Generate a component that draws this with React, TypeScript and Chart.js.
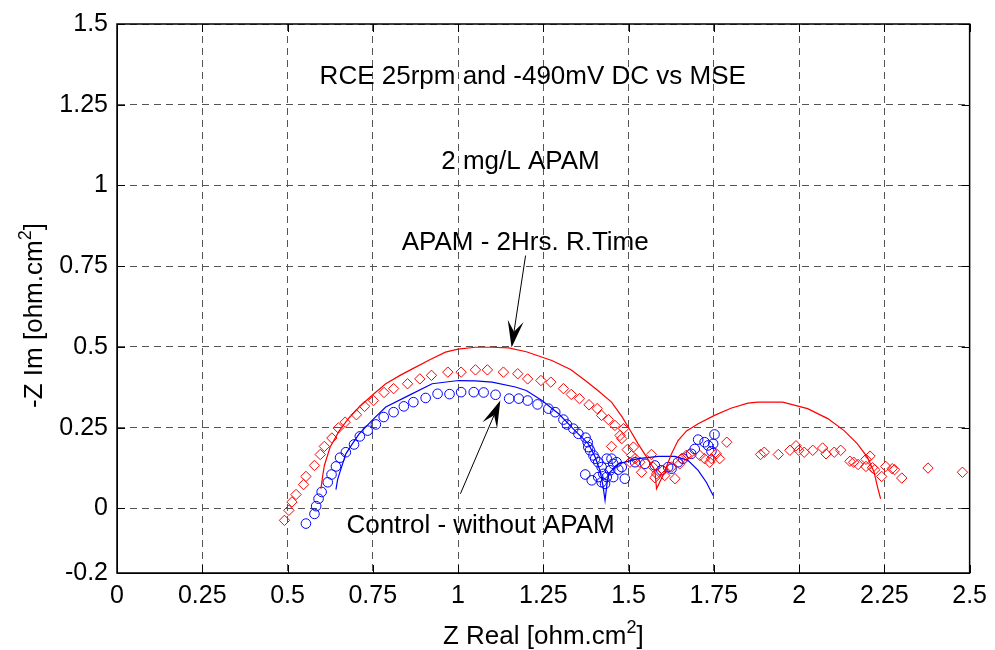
import React, { useEffect, useRef } from "react";
import { Chart, registerables } from "chart.js";

Chart.register(...registerables);

// ---------- axes ----------
const xTicks = [0, 0.25, 0.5, 0.75, 1, 1.25, 1.5, 1.75, 2, 2.25, 2.5];
const xTickLabels = ["0", "0.25", "0.5", "0.75", "1", "1.25", "1.5", "1.75", "2", "2.25", "2.5"];
const yTicks = [-0.2, 0, 0.25, 0.5, 0.75, 1, 1.25, 1.5];
const yTickLabels = ["-0.2", "0", "0.25", "0.5", "0.75", "1", "1.25", "1.5"];
const xTitle = "Z Real [ohm.cm";
const yTitle = "-Z Im [ohm.cm";
const titleSup = "2";

// ---------- APAM - 2Hrs (red) fitted line ----------
const apamFitX = [0.598, 0.603, 0.608, 0.625, 0.652, 0.68, 0.71, 0.75, 0.788, 0.83, 0.866, 0.92, 0.963, 1.0, 1.051, 1.1, 1.148, 1.2, 1.275, 1.33, 1.373, 1.41, 1.45, 1.48, 1.499, 1.528, 1.553, 1.577, 1.582, 1.6, 1.615, 1.626, 1.645, 1.67, 1.704, 1.752, 1.8, 1.85, 1.879, 1.952, 2.025, 2.084, 2.132, 2.171, 2.2, 2.22, 2.23, 2.239];
const apamFitY = [0.061, 0.1, 0.133, 0.19, 0.241, 0.28, 0.314, 0.352, 0.386, 0.412, 0.432, 0.462, 0.484, 0.493, 0.499, 0.499, 0.497, 0.485, 0.458, 0.43, 0.396, 0.365, 0.329, 0.285, 0.252, 0.2, 0.159, 0.118, 0.061, 0.1, 0.14, 0.169, 0.21, 0.24, 0.262, 0.288, 0.31, 0.326, 0.329, 0.329, 0.309, 0.278, 0.241, 0.2, 0.159, 0.112, 0.066, 0.03];

// ---------- APAM - 2Hrs (red) measured diamonds ----------
const apamX = [0.491, 0.504, 0.513, 0.525, 0.547, 0.554, 0.579, 0.596, 0.608, 0.63, 0.649, 0.669, 0.702, 0.726, 0.752, 0.783, 0.811, 0.852, 0.888, 0.922, 0.97, 1.009, 1.051, 1.086, 1.133, 1.175, 1.204, 1.243, 1.272, 1.309, 1.332, 1.356, 1.384, 1.408, 1.421, 1.441, 1.46, 1.485, 1.475, 1.48, 1.45, 1.496, 1.514, 1.509, 1.519, 1.504, 1.533, 1.567, 1.538, 1.572, 1.582, 1.577, 1.601, 1.606, 1.626, 1.636, 1.65, 1.655, 1.669, 1.679, 1.709, 1.723, 1.738, 1.743, 1.757, 1.767, 1.788, 1.887, 1.898, 1.939, 1.973, 1.991, 1.999, 2.015, 2.04, 2.069, 2.079, 2.103, 2.122, 2.149, 2.16, 2.173, 2.196, 2.208, 2.196, 2.215, 2.222, 2.242, 2.254, 2.273, 2.28, 2.301, 2.378, 2.479];
const apamY = [-0.037, -0.006, 0.02, 0.043, 0.074, 0.099, 0.133, 0.167, 0.192, 0.218, 0.249, 0.267, 0.29, 0.316, 0.334, 0.359, 0.371, 0.386, 0.401, 0.412, 0.422, 0.422, 0.429, 0.429, 0.422, 0.417, 0.401, 0.396, 0.391, 0.371, 0.353, 0.34, 0.321, 0.309, 0.288, 0.275, 0.257, 0.247, 0.226, 0.216, 0.192, 0.182, 0.19, 0.164, 0.154, 0.143, 0.143, 0.167, 0.112, 0.128, 0.107, 0.095, 0.118, 0.102, 0.128, 0.092, 0.138, 0.154, 0.164, 0.169, 0.164, 0.154, 0.143, 0.154, 0.169, 0.154, 0.205, 0.167, 0.174, 0.167, 0.18, 0.194, 0.18, 0.174, 0.18, 0.187, 0.169, 0.174, 0.18, 0.146, 0.143, 0.136, 0.152, 0.162, 0.13, 0.126, 0.12, 0.099, 0.13, 0.123, 0.12, 0.094, 0.125, 0.112];

// ---------- Control (blue) fitted line ----------
const ctrlFitX = [0.642, 0.647, 0.652, 0.671, 0.69, 0.71, 0.75, 0.788, 0.856, 0.924, 1.002, 1.05, 1.1, 1.168, 1.2, 1.246, 1.295, 1.343, 1.382, 1.402, 1.416, 1.425, 1.431, 1.436, 1.441, 1.47, 1.528, 1.587, 1.636, 1.674, 1.704, 1.728, 1.748];
const ctrlFitY = [0.058, 0.09, 0.107, 0.169, 0.2, 0.231, 0.275, 0.314, 0.35, 0.386, 0.396, 0.395, 0.391, 0.376, 0.365, 0.334, 0.293, 0.241, 0.2, 0.159, 0.118, 0.07, 0.025, 0.07, 0.107, 0.138, 0.154, 0.161, 0.161, 0.149, 0.118, 0.081, 0.04];

// ---------- Control (blue) measured circles ----------
const ctrlX = [0.554, 0.579, 0.584, 0.591, 0.6, 0.618, 0.629, 0.642, 0.654, 0.671, 0.695, 0.712, 0.735, 0.759, 0.782, 0.811, 0.841, 0.869, 0.905, 0.94, 0.975, 1.009, 1.046, 1.075, 1.11, 1.15, 1.178, 1.204, 1.233, 1.265, 1.285, 1.309, 1.319, 1.338, 1.353, 1.374, 1.38, 1.382, 1.387, 1.397, 1.402, 1.411, 1.421, 1.373, 1.392, 1.411, 1.421, 1.431, 1.436, 1.426, 1.436, 1.45, 1.455, 1.465, 1.48, 1.489, 1.446, 1.455, 1.47, 1.519, 1.548, 1.577, 1.596, 1.616, 1.626, 1.645, 1.66, 1.684, 1.694, 1.704, 1.723, 1.733, 1.748, 1.752, 1.743];
const ctrlY = [-0.047, -0.017, 0.007, 0.03, 0.051, 0.081, 0.105, 0.13, 0.157, 0.174, 0.198, 0.223, 0.241, 0.26, 0.283, 0.298, 0.316, 0.329, 0.342, 0.355, 0.354, 0.36, 0.36, 0.359, 0.352, 0.34, 0.34, 0.334, 0.322, 0.309, 0.298, 0.275, 0.26, 0.247, 0.231, 0.219, 0.205, 0.19, 0.18, 0.164, 0.154, 0.143, 0.128, 0.105, 0.087, 0.097, 0.081, 0.076, 0.097, 0.107, 0.154, 0.154, 0.138, 0.143, 0.128, 0.092, 0.118, 0.097, 0.12, 0.143, 0.138, 0.133, 0.118, 0.128, 0.123, 0.143, 0.154, 0.169, 0.184, 0.213, 0.205, 0.195, 0.2, 0.229, 0.177];

// ---------- annotations (data coordinates) ----------
const noteTexts = ["RCE 25rpm and -490mV DC vs MSE", "2 mg/L APAM", "APAM - 2Hrs. R.Time", "Control - without APAM"];
const noteX = [1.219, 1.183, 1.197, 1.066];
const noteY = [1.315, 1.0495, 0.801, -0.0765];
const arrowFromX = [1.198, 1.007];
const arrowFromY = [0.783, 0.0455];
const arrowToX = [1.157, 1.124];
const arrowToY = [0.498, 0.334];

const FONT = '"Liberation Sans", Arial, Helvetica, sans-serif';

const zip = (xs: number[], ys: number[]) => xs.map((x, i) => ({ x, y: ys[i] }));

function drawArrow(ctx: CanvasRenderingContext2D, x1: number, y1: number, x2: number, y2: number) {
  const ang = Math.atan2(y2 - y1, x2 - x1);
  const c = Math.cos(ang), s = Math.sin(ang);
  const L = 27, W = 8, N = 16;
  ctx.beginPath();
  ctx.moveTo(x1, y1);
  ctx.lineTo(x2 - c * N, y2 - s * N);
  ctx.stroke();
  const bx = x2 - c * L, by = y2 - s * L;
  const nx = -s, ny = c;
  ctx.beginPath();
  ctx.moveTo(x2, y2);
  ctx.lineTo(bx + nx * W, by + ny * W);
  ctx.lineTo(x2 - c * N, y2 - s * N);
  ctx.lineTo(bx - nx * W, by - ny * W);
  ctx.closePath();
  ctx.fill();
}

function drawSupText(ctx: CanvasRenderingContext2D, main: string, sup: string, cx: number, baseY: number) {
  ctx.font = `26px ${FONT}`;
  const w1 = ctx.measureText(main).width;
  const w3 = ctx.measureText("]").width;
  ctx.font = `18px ${FONT}`;
  const w2 = ctx.measureText(sup).width;
  const total = w1 + w2 + w3;
  let x = cx - total / 2;
  ctx.textAlign = "left";
  ctx.textBaseline = "alphabetic";
  ctx.font = `26px ${FONT}`;
  ctx.fillText(main, x, baseY);
  x += w1;
  ctx.font = `18px ${FONT}`;
  ctx.fillText(sup, x, baseY - 11);
  x += w2;
  ctx.font = `26px ${FONT}`;
  ctx.fillText("]", x, baseY);
}

const overlayPlugin = {
  id: "overlay",
  afterDraw(chart: any) {
    const { ctx, chartArea: a, scales } = chart;
    const xs = scales.x, ys = scales.y;
    ctx.save();
    // inward tick marks on all four sides
    ctx.strokeStyle = "#000";
    ctx.lineWidth = 1;
    ctx.setLineDash([]);
    ctx.beginPath();
    xTicks.forEach((v) => {
      const px = Math.round(xs.getPixelForValue(v)) + 0.5;
      ctx.moveTo(px, a.bottom);
      ctx.lineTo(px, a.bottom - 8);
      ctx.moveTo(px, a.top);
      ctx.lineTo(px, a.top + 8);
    });
    yTicks.forEach((v) => {
      const py = Math.round(ys.getPixelForValue(v)) + 0.5;
      ctx.moveTo(a.left, py);
      ctx.lineTo(a.left + 8, py);
      ctx.moveTo(a.right, py);
      ctx.lineTo(a.right - 8, py);
    });
    ctx.stroke();
    // axes box
    ctx.lineWidth = 1.5;
    ctx.strokeRect(a.left, a.top, a.right - a.left, a.bottom - a.top);

    // annotation texts
    ctx.fillStyle = "#000";
    ctx.font = `26px ${FONT}`;
    ctx.textAlign = "center";
    ctx.textBaseline = "alphabetic";
    noteTexts.forEach((t, i) => {
      ctx.fillText(t, xs.getPixelForValue(noteX[i]), ys.getPixelForValue(noteY[i]));
    });

    // arrows
    ctx.lineWidth = 1;
    ctx.strokeStyle = "#000";
    arrowFromX.forEach((_, i) => {
      drawArrow(
        ctx,
        xs.getPixelForValue(arrowFromX[i]),
        ys.getPixelForValue(arrowFromY[i]),
        xs.getPixelForValue(arrowToX[i]),
        ys.getPixelForValue(arrowToY[i])
      );
    });

    // axis titles
    const cx = (a.left + a.right) / 2;
    drawSupText(ctx, xTitle, titleSup, cx, 644);
    ctx.save();
    ctx.translate(42, (a.top + a.bottom) / 2 + 17);
    ctx.rotate(-Math.PI / 2);
    drawSupText(ctx, yTitle, titleSup, 0, 0);
    ctx.restore();

    ctx.restore();
  },
};

export default function App() {
  const ref = useRef<HTMLCanvasElement | null>(null);

  useEffect(() => {
    if (!ref.current) return;
    const gridOpts = {
      color: "#555555",
      lineWidth: 1,
      drawTicks: false,
    };
    const chart = new Chart(ref.current, {
      type: "scatter",
      data: {
        datasets: [
          {
            label: "APAM fit",
            data: zip(apamFitX, apamFitY),
            showLine: true,
            borderColor: "#ff0000",
            borderWidth: 1.2,
            pointRadius: 0,
            fill: false,
          },
          {
            label: "Control fit",
            data: zip(ctrlFitX, ctrlFitY),
            showLine: true,
            borderColor: "#0000ff",
            borderWidth: 1.2,
            pointRadius: 0,
            fill: false,
          },
          {
            label: "APAM - 2Hrs. R.Time",
            data: zip(apamX, apamY),
            showLine: false,
            pointStyle: "rectRot",
            pointRadius: 5.2,
            borderColor: "#ff0000",
            backgroundColor: "rgba(0,0,0,0)",
            borderWidth: 1,
          },
          {
            label: "Control - without APAM",
            data: zip(ctrlX, ctrlY),
            showLine: false,
            pointStyle: "circle",
            pointRadius: 4.8,
            borderColor: "#0000ff",
            backgroundColor: "rgba(0,0,0,0)",
            borderWidth: 1,
          },
        ],
      },
      options: {
        responsive: false,
        animation: false,
        events: [],
        layout: { padding: { top: 24, right: 23, left: 0, bottom: 0 } },
        plugins: {
          legend: { display: false },
          tooltip: { enabled: false },
          title: { display: false },
        },
        scales: {
          x: {
            type: "linear",
            min: 0,
            max: 2.5,
            afterBuildTicks: (s: any) => {
              s.ticks = xTicks.map((v) => ({ value: v }));
            },
            afterFit: (s: any) => {
              s.height = 77;
            },
            ticks: {
              autoSkip: false,
              maxRotation: 0,
              padding: 8,
              color: "#000",
              font: { family: FONT, size: 25 },
              callback: (_v: any, i: number) => xTickLabels[i],
            },
            grid: { ...gridOpts },
            border: { display: true, color: "#000", width: 1, dash: [7, 5] },
          },
          y: {
            type: "linear",
            min: -0.2,
            max: 1.5,
            afterBuildTicks: (s: any) => {
              s.ticks = yTicks.map((v) => ({ value: v }));
            },
            afterFit: (s: any) => {
              s.width = 117;
            },
            ticks: {
              autoSkip: false,
              padding: 9,
              color: "#000",
              font: { family: FONT, size: 25 },
              callback: (_v: any, i: number) => yTickLabels[i],
            },
            grid: { ...gridOpts },
            border: { display: true, color: "#000", width: 1, dash: [7, 5] },
          },
        },
      },
      plugins: [overlayPlugin],
    } as any);
    return () => chart.destroy();
  }, []);

  return (
    <div style={{ position: "absolute", left: 0, top: 0, width: 995, height: 650, background: "#fff" }}>
      <canvas ref={ref} width={995} height={650} style={{ display: "block" }} />
    </div>
  );
}
